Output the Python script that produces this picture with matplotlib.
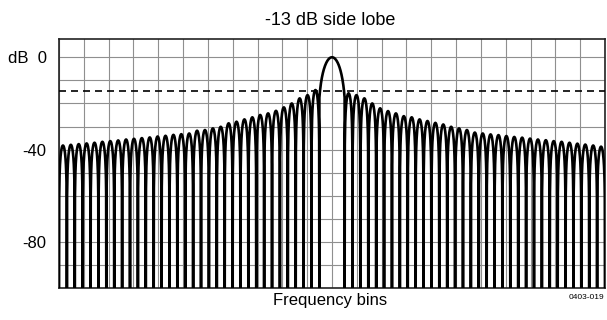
import numpy as np
import matplotlib
matplotlib.use('Agg')
import matplotlib.pyplot as plt

plt.rcParams['font.family'] = ['Liberation Sans', 'DejaVu Sans']

# Peak level (dB) of each side lobe, counted outwards from the main lobe
right_peaks_db = [-15.6, -16.4, -17.8, -20.0, -22.1, -23.3, -24.3, -25.5, -26.0, -26.9,
                  -27.6, -28.4, -29.1, -30.1, -30.8, -31.5, -32.6, -33.0, -33.4, -33.7,
                  -34.1, -34.5, -34.8, -35.2, -35.6, -35.9, -36.3, -36.6, -37.0, -37.4,
                  -37.8, -38.2, -38.7]
left_peaks_db = [-14.2, -16.4, -17.8, -20.0, -21.7, -23.2, -24.3, -25.0, -26.0, -26.9,
                 -27.9, -28.6, -30.1, -30.8, -31.5, -31.8, -33.0, -33.3, -33.6, -34.0,
                 -34.3, -34.7, -35.0, -35.3, -35.6, -36.0, -36.3, -36.6, -37.0, -37.3,
                 -37.6, -37.9, -38.2]
main_peak_db = 0.0
main_half_width = 1.6     # bins, where the main lobe meets the first side lobe
main_null = 1.82          # bins, sinc scale of the main lobe
side_lobe_level = -14.5   # dashed reference line

yticks = [0, -10, -20, -30, -40, -50, -60, -70, -80, -90, -100]
ylabels = ['dB  0', '', '', '', '-40', '', '', '', '-80', '', '']

FLOOR = -115
t = np.linspace(0, 1, 41)
with np.errstate(divide='ignore'):
    arch = np.maximum(20 * np.log10(np.abs(np.sin(np.pi * t))), FLOOR)

xs, ys = [], []
# left side, outermost lobe first
for k in reversed(range(len(left_peaks_db))):
    x0 = -main_half_width - (k + 1)
    xs.append(x0 + t)
    ys.append(np.maximum(left_peaks_db[k] + arch, FLOOR))
# main lobe
xm = np.linspace(-main_half_width, main_half_width, 81)
ym = main_peak_db + 20 * np.log10(np.abs(np.sinc(xm / main_null)))
xs.append(np.r_[-main_half_width, xm, main_half_width])
ys.append(np.r_[FLOOR, ym, FLOOR])
# right side
for k in range(len(right_peaks_db)):
    x0 = main_half_width + k
    xs.append(x0 + t)
    ys.append(np.maximum(right_peaks_db[k] + arch, FLOOR))

x = np.concatenate(xs)
y = np.concatenate(ys)
xmax = main_half_width + len(right_peaks_db)

fig = plt.figure(figsize=(6.07, 3.2), dpi=100)
ax = fig.add_axes([59 / 607, (320 - 288.3) / 320, (605 - 59) / 607, (288.3 - 39) / 320])

ax.plot(x, y, color='black', lw=1.9, solid_joinstyle='round', zorder=3)
ax.axhline(side_lobe_level, color='black', lw=1.2, dashes=(4.2, 3.0), zorder=4)

ax.set_xlim(-xmax, xmax)
ax.set_ylim(-100, 7.9)
ax.set_xticks(np.linspace(-xmax, xmax, 23))
ax.set_xticklabels([])
ax.set_yticks(yticks)
ax.set_yticklabels(ylabels, fontsize=12)
ax.tick_params(length=0, pad=9)
ax.grid(True, color='#8f8f8f', lw=0.8)
ax.set_axisbelow(True)
for s in ax.spines.values():
    s.set_linewidth(1.2)
    s.set_color('#222222')

fig.text(0.544, 0.935, '-13 dB side lobe', ha='center', va='center', fontsize=13)
fig.text(0.544, 0.062, 'Frequency bins', ha='center', va='center', fontsize=12)
fig.text(0.995, 0.07, '0403-019', ha='right', va='center', fontsize=6)

fig.savefig('out.png', dpi=100)
